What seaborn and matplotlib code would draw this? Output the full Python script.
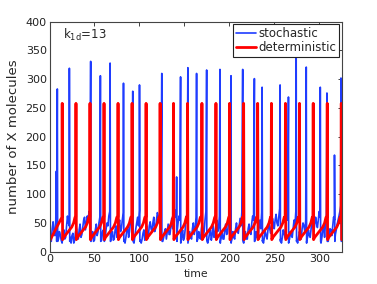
import numpy as np
import pandas as pd
import matplotlib
matplotlib.use("Agg")
import matplotlib.pyplot as plt
import seaborn as sns

# ---------------- data ----------------
# deterministic trajectory: spike times, spike peak, and the shape of one cycle
det_spike_t = [13.8, 29.1, 44.7, 60.3, 75.9, 91.5, 107.1, 122.7, 137.6, 153.2,
               169.2, 184.8, 200.0, 215.6, 231.2, 246.5, 262.1, 277.7, 293.0,
               308.6, 324.2]
det_peak = 258
det_start = [0.0, 18]                       # (time, value) at t=0
# one cycle after a spike: (offset from spike, value)
det_cycle_dt = [0.35, 0.75, 2.0, 5.0, 8.0, 11.0, 13.0, 14.6]
det_cycle_x = [det_peak, 21, 25, 31, 37, 43, 50, 60]

# stochastic trajectory: background values at even time units ...
blue_even_t = list(range(0, 325, 2))
blue_even = [
    30, 18, 52, 28, 60, 22, 30, 15, 38, 25,
    62, 45, 15, 32, 20, 40, 22, 48, 30, 55,
    38, 62, 70, 18, 35, 20, 48, 35, 60, 20,
    38, 25, 50, 62, 18, 35, 22, 45, 30, 55,
    40, 68, 15, 38, 25, 52, 65, 15, 40, 60,
    72, 15, 32, 20, 45, 28, 52, 35, 60, 40,
    68, 50, 75, 18, 35, 22, 48, 30, 58, 42,
    72, 35, 62, 15, 38, 25, 62, 15, 35, 22,
    50, 40, 18, 35, 22, 50, 35, 70, 15, 32,
    20, 45, 30, 55, 40, 15, 35, 22, 48, 32,
    60, 15, 35, 22, 50, 32, 58, 70, 15, 35,
    22, 48, 30, 62, 18, 35, 22, 55, 68, 15,
    35, 22, 50, 32, 58, 40, 65, 45, 75, 15,
    38, 25, 65, 15, 35, 25, 55, 70, 15, 35,
    22, 50, 35, 15, 38, 25, 52, 35, 60, 42,
    70, 15, 38, 25, 65, 18, 40, 28, 60, 30,
    48, 62, 80,
]
# ... and at odd time units
blue_odd_t = list(range(1, 325, 2))
blue_odd = [
    22, 40, 35, 55, 18, 35, 20, 30, 22, 45,
    50, 25, 28, 15, 35, 28, 38, 25, 42, 60,
    50, 55, 60, 28, 18, 38, 28, 50, 20, 35,
    18, 40, 45, 70, 28, 20, 38, 25, 48, 35,
    55, 20, 25, 45, 35, 60, 22, 28, 50, 45,
    20, 22, 38, 30, 22, 45, 40, 50, 35, 55,
    62, 60, 22, 25, 40, 35, 30, 45, 40, 55,
    60, 50, 55, 25, 20, 40, 50, 25, 25, 40,
    30, 60, 22, 25, 40, 28, 55, 20, 22, 38,
    30, 25, 45, 35, 62, 25, 22, 38, 30, 50,
    45, 22, 25, 40, 35, 45, 45, 20, 25, 22,
    40, 35, 50, 55, 22, 25, 42, 40, 20, 25,
    28, 38, 40, 45, 50, 55, 50, 60, 22, 25,
    32, 50, 55, 22, 28, 40, 45, 20, 25, 28,
    40, 45, 55, 25, 28, 40, 45, 48, 50, 55,
    60, 25, 45, 50, 22, 28, 38, 45, 55, 38,
    55, 70,
]
# ... plus the spikes (time, peak)
blue_spike_t = [7.6, 8.7, 22.1, 45.8, 56.6, 67.4, 82.3, 92.6, 100.1, 124.9,
                141.4, 145.8, 153.9, 163.6, 174.8, 189.6, 201.9, 214.9, 227.9,
                236.5, 256.5, 265.8, 274.4, 285.6, 301.2, 308.6, 317.0, 324.2]
blue_spike_x = [140, 283, 319, 331, 306, 328, 293, 279, 290, 310,
                130, 304, 320, 310, 316, 317, 306, 317, 301,
                286, 290, 269, 341, 321, 286, 276, 168, 302]
blue_after_spike = 18

series_names = ["stochastic", "deterministic"]
xticks = [0, 50, 100, 150, 200, 250, 300]
yticks = [0, 50, 100, 150, 200, 250, 300, 350, 400]

# ---------------- build tables ----------------
det_t, det_x = [det_start[0]], [det_start[1]]
for ts in det_spike_t:
    det_t.append(ts)
    det_x.append(det_cycle_x[-1])
    for dt, v in zip(det_cycle_dt, det_cycle_x):
        if ts + dt <= 325.5:
            det_t.append(ts + dt)
            det_x.append(v)
df_det = pd.DataFrame({"time": det_t, "X": det_x})

pts = list(zip(blue_even_t, blue_even)) + list(zip(blue_odd_t, blue_odd))
for ts, p in zip(blue_spike_t, blue_spike_x):
    pts.append((ts, p))
    pts.append((ts + 0.4, blue_after_spike))
pts.sort(key=lambda a: a[0])
df_sto = pd.DataFrame(pts, columns=["time", "X"])

# ---------------- plot ----------------
sns.set_style("white")
plt.rcParams["font.family"] = ["DejaVu Sans"]

fig = plt.figure(figsize=(3.77, 2.84), dpi=100)
ax = fig.add_axes([0.1313, 0.1137, 0.7750, 0.8099])

sns.lineplot(data=df_sto, x="time", y="X", color="#1f3cff", lw=1.2,
             estimator=None, sort=False, ax=ax, label=series_names[0])
sns.lineplot(data=df_det, x="time", y="X", color="#ff0000", lw=2.0,
             estimator=None, sort=False, ax=ax, label=series_names[1])

ax.set_xlim(0, 325)
ax.set_ylim(0, 400)
ax.set_xticks(xticks)
ax.set_yticks(yticks)
ax.tick_params(direction="in", length=3, width=0.6, top=True, right=True,
               labelsize=8, pad=2, colors="#222222")
for s in ax.spines.values():
    s.set_visible(True)
    s.set_color("#444444")
    s.set_linewidth(0.8)

ax.set_xlabel("time", fontsize=7.8, labelpad=3.5)
ax.set_ylabel("number of X molecules", fontsize=9.5, labelpad=4)

ax.text(15.4, 370.6, r"$\mathregular{k_{1d}}$=13", fontsize=8.5, va="baseline")

leg = ax.legend(loc="upper right", bbox_to_anchor=(1, 1), fontsize=8.5,
                frameon=True, fancybox=False, framealpha=1, edgecolor="#222222",
                borderaxespad=0.2, borderpad=0.25, handlelength=1.7,
                handletextpad=0.2, labelspacing=0.1)
leg.get_frame().set_linewidth(0.8)

fig.savefig("out.png", dpi=100)
